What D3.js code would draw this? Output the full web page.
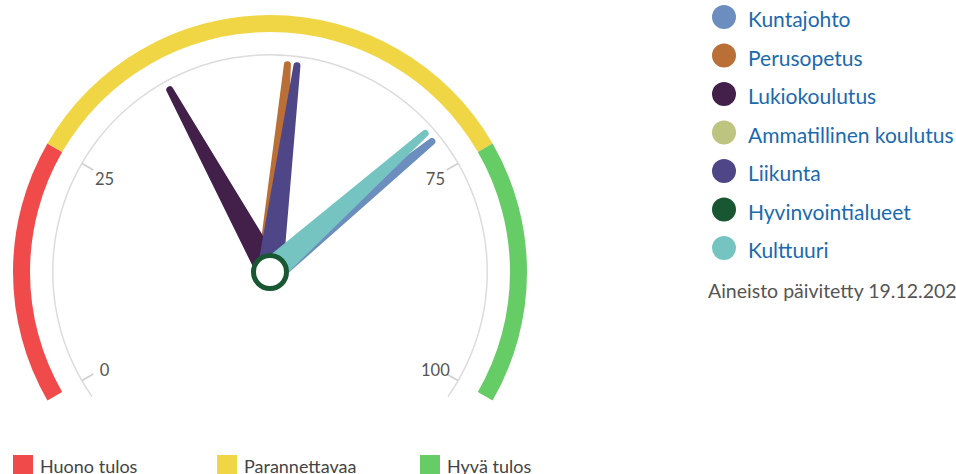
<!DOCTYPE html>
<html lang="fi">
<head>
<meta charset="utf-8">
<title>Mittari</title>
<script src="https://cdn.jsdelivr.net/npm/d3@7"></script>
<style>
	body { margin: 0; background: white; }
	svg { display: block; font-family: Lato, "Noto Sans", sans-serif; }
</style>
</head>
<body>
<svg id="chart" width="956" height="474"></svg>
<script>
// series shown as needles (null = no needle)
var seriesNames = ["Kuntajohto", "Perusopetus", "Lukiokoulutus", "Ammatillinen koulutus", "Liikunta", "Hyvinvointialueet", "Kulttuuri"]
var seriesColors = ["#6c8ebf", "#b96f36", "#42204a", "#bcc47f", "#4f4687", "#195732", "#76c4c2"]
var seriesValues = [71.3, 52, 38, null, 53.1, null, 70.1]

// plot bands
var bandNames = ["Huono tulos", "Parannettavaa", "Hyvä tulos"]
var bandFrom = [0, 25, 75]
var bandTo = [25, 75, 100]
var bandColors = ["#f04a4b", "#f0d645", "#66cc66"]

var tickValues = [0, 25, 75, 100]
var updatedText = "Aineisto päivitetty 19.12.2023"

var svg = d3.select("#chart")
var cx = 270, cy = 272
var rad = Math.PI / 180

var angle = d3.scaleLinear().domain([0, 100]).range([-120, 120])  //degrees, 0 = straight up

var g = svg.append("g").attr("transform", "translate(" + cx + "," + cy + ")")

//coloured bands round the outside
var bandArc = d3.arc().innerRadius(240).outerRadius(257)
g.selectAll(".band").data(bandFrom).enter().append("path")
	.attr("class", "band")
	.attr("d", function(d, i) {
		return bandArc({startAngle: angle(d) * rad, endAngle: angle(bandTo[i]) * rad})
	})
	.attr("fill", function(d, i) { return bandColors[i] })

//axis line
var axisArc = d3.arc().innerRadius(216.5).outerRadius(218)
g.append("path")
	.attr("d", axisArc({startAngle: (angle(0) - 5) * rad, endAngle: (angle(100) + 5) * rad}))
	.attr("fill", "#dcdcdc")

function polar(r, deg) {
	return [r * Math.sin(deg * rad), -r * Math.cos(deg * rad)]
}

g.selectAll(".tick").data(tickValues).enter().append("line")
	.attr("class", "tick")
	.attr("x1", function(d) { return polar(217, angle(d))[0] })
	.attr("y1", function(d) { return polar(217, angle(d))[1] })
	.attr("x2", function(d) { return polar(204, angle(d))[0] })
	.attr("y2", function(d) { return polar(204, angle(d))[1] })
	.attr("stroke", "#cfcfcf")
	.attr("stroke-width", 1.5)

g.selectAll(".tlabel").data(tickValues).enter().append("text")
	.attr("class", "tlabel")
	.attr("x", function(d) { return polar(191, angle(d))[0] })
	.attr("y", function(d) { return polar(191, angle(d))[1] + 2 })
	.attr("text-anchor", "middle")
	.attr("dominant-baseline", "central")
	.attr("font-size", 16.5)
	.attr("fill", "#555")
	.text(function(d) { return d })

//needles: tapered with round tip
var baseW = 26, topW = 7, needleR = 208
function needlePath() {
	var t = topW / 2, b = baseW / 2
	return "M" + (-b) + ",0 L" + (-t) + "," + (-needleR) +
		" A" + t + "," + t + " 0 0 1 " + t + "," + (-needleR) +
		" L" + b + ",0 Z"
}
var needleIdx = d3.range(seriesNames.length).filter(function(i) { return seriesValues[i] != null })
g.selectAll(".needle").data(needleIdx).enter().append("path")
	.attr("class", "needle")
	.attr("d", needlePath())
	.attr("fill", function(i) { return seriesColors[i] })
	.attr("transform", function(i) { return "rotate(" + angle(seriesValues[i]) + ")" })

//pivot
g.append("circle")
	.attr("r", 16.5)
	.attr("fill", "white")
	.attr("stroke", seriesColors[5])
	.attr("stroke-width", 5)

//series legend on the right
var leg = svg.append("g").attr("transform", "translate(724,17)")
var legItems = leg.selectAll(".leg").data(seriesNames).enter().append("g")
	.attr("class", "leg")
	.attr("transform", function(d, i) { return "translate(0," + (i * 38.5) + ")" })
legItems.append("circle").attr("r", 12).attr("fill", function(d, i) { return seriesColors[i] })
legItems.append("text")
	.attr("x", 24).attr("y", 10)
	.attr("font-size", 21)
	.attr("fill", "#1b6aae")
	.text(function(d) { return d })

svg.append("text")
	.attr("x", 708).attr("y", 298)
	.attr("font-size", 19.5)
	.attr("fill", "#555")
	.text(updatedText)

//band legend at the bottom
var bx = [13, 217, 420]
var bleg = svg.selectAll(".bleg").data(bandNames).enter().append("g")
	.attr("class", "bleg")
	.attr("transform", function(d, i) { return "translate(" + bx[i] + ",455)" })
bleg.append("rect").attr("width", 20).attr("height", 20)
	.attr("fill", function(d, i) { return bandColors[i] })
bleg.append("text")
	.attr("x", 27).attr("y", 18)
	.attr("font-size", 18)
	.attr("fill", "#444")
	.text(function(d) { return d })
</script>
</body>
</html>
